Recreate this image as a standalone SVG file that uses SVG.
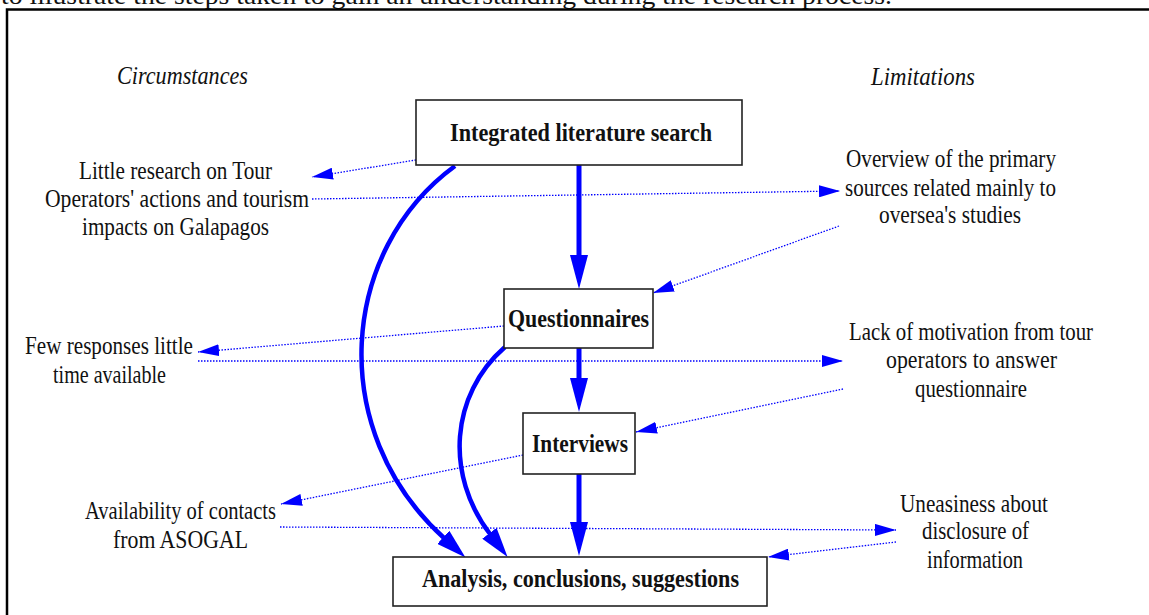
<svg xmlns="http://www.w3.org/2000/svg" width="1149" height="615" viewBox="0 0 1149 615">
  <style>
    .t { font-family: "Liberation Serif", "Times New Roman", serif; font-size: 26px; fill: #111; }
    .i { font-style: italic; font-size: 25px; }
    .b { font-weight: bold; font-size: 26px; }
    .ttl { font-size: 26px; }
    .box { fill: #fff; stroke: #222; stroke-width: 1.6; }
    .thick { fill: none; stroke: #0000ff; stroke-width: 5; }
    .curve { fill: none; stroke: #0000ff; stroke-width: 4.5; }
    .dot { fill: none; stroke: #0000ff; stroke-width: 1.3; stroke-dasharray: 1.5 1.5; }
  </style>
  <defs>
    <marker id="ah" markerUnits="userSpaceOnUse" markerWidth="34" markerHeight="18" viewBox="0 0 34 18" refX="1" refY="9" orient="auto">
      <path d="M0,0 L34,9 L0,18 z" fill="#0000ff"/>
    </marker>
    <marker id="ahc" markerUnits="userSpaceOnUse" markerWidth="30" markerHeight="18" viewBox="0 0 30 18" refX="1" refY="9" orient="auto">
      <path d="M0,0 L30,9 L0,18 z" fill="#0000ff"/>
    </marker>
    <marker id="ad" markerUnits="userSpaceOnUse" markerWidth="21" markerHeight="12" viewBox="0 0 21 12" refX="21" refY="6" orient="auto">
      <path d="M0,0 L21,6 L0,12 z" fill="#0000ff"/>
    </marker>
  </defs>
  <rect width="1149" height="615" fill="#fff"/>

  <text class="t ttl" x="1" y="4" textLength="891" lengthAdjust="spacingAndGlyphs">to illustrate the steps taken to gain an understanding during the research process.</text>
  <path d="M7,616 V9.5 H1150" fill="none" stroke="#000" stroke-width="2.5"/>

  <g id="headings">
    <text class="t i" x="117" y="84" textLength="131" lengthAdjust="spacingAndGlyphs">Circumstances</text>
    <text class="t i" x="871" y="85" textLength="104" lengthAdjust="spacingAndGlyphs">Limitations</text>
  </g>

  <g id="connectors">
    <path class="dot" d="M416,160 L312,177" marker-end="url(#ad)"/>
    <path class="dot" d="M312,199 L840,191" marker-end="url(#ad)"/>
    <path class="dot" d="M839,226 L653,293" marker-end="url(#ad)"/>
    <path class="dot" d="M504,326 L198,352" marker-end="url(#ad)"/>
    <path class="dot" d="M198,361 L843,361" marker-end="url(#ad)"/>
    <path class="dot" d="M843,389 L636,432" marker-end="url(#ad)"/>
    <path class="dot" d="M523,455 L281,504" marker-end="url(#ad)"/>
    <path class="dot" d="M280,527 L896,530" marker-end="url(#ad)"/>
    <path class="dot" d="M896,542 L768,557" marker-end="url(#ad)"/>

    <path class="thick" d="M579,165 L579,256" marker-end="url(#ah)"/>
    <path class="thick" d="M579,348 L579,379" marker-end="url(#ah)"/>
    <path class="thick" d="M579,474 L579,523" marker-end="url(#ah)"/>
    <path class="curve" d="M455,166 C340,250 325,430 444,538" marker-end="url(#ahc)"/>
    <path class="curve" d="M505,347 C450,395 445,475 490,534" marker-end="url(#ahc)"/>
  </g>

  <g id="node-literature">
    <rect class="box" x="416" y="100" width="326" height="65"/>
    <text class="t b" x="450" y="141" textLength="262" lengthAdjust="spacingAndGlyphs">Integrated literature search</text>
  </g>
  <g id="node-questionnaires">
    <rect class="box" x="504" y="289" width="149" height="59"/>
    <text class="t b" x="508" y="327" textLength="141" lengthAdjust="spacingAndGlyphs">Questionnaires</text>
  </g>
  <g id="node-interviews">
    <rect class="box" x="523" y="413" width="112" height="61"/>
    <text class="t b" x="532" y="452" textLength="96" lengthAdjust="spacingAndGlyphs">Interviews</text>
  </g>
  <g id="node-analysis">
    <rect class="box" x="393" y="557" width="374" height="49"/>
    <text class="t b" x="422" y="587" textLength="317" lengthAdjust="spacingAndGlyphs">Analysis, conclusions, suggestions</text>
  </g>

  <g id="node-little-research">
    <text class="t" x="79" y="179" textLength="193" lengthAdjust="spacingAndGlyphs">Little research on Tour</text>
    <text class="t" x="45" y="207" textLength="264" lengthAdjust="spacingAndGlyphs">Operators' actions and tourism</text>
    <text class="t" x="82" y="235" textLength="187" lengthAdjust="spacingAndGlyphs">impacts on Galapagos</text>
  </g>
  <g id="node-few-responses">
    <text class="t" x="25" y="354" textLength="168" lengthAdjust="spacingAndGlyphs">Few responses little</text>
    <text class="t" x="53" y="383" textLength="113" lengthAdjust="spacingAndGlyphs">time available</text>
  </g>
  <g id="node-availability">
    <text class="t" x="85" y="519" textLength="191" lengthAdjust="spacingAndGlyphs">Availability of contacts</text>
    <text class="t" x="113" y="548" textLength="135" lengthAdjust="spacingAndGlyphs">from ASOGAL</text>
  </g>
  <g id="node-overview">
    <text class="t" x="846" y="167" textLength="210" lengthAdjust="spacingAndGlyphs">Overview of the primary</text>
    <text class="t" x="845" y="196" textLength="211" lengthAdjust="spacingAndGlyphs">sources related mainly to</text>
    <text class="t" x="879" y="223" textLength="142" lengthAdjust="spacingAndGlyphs">oversea's studies</text>
  </g>
  <g id="node-lack-motivation">
    <text class="t" x="849" y="340" textLength="244" lengthAdjust="spacingAndGlyphs">Lack of motivation from tour</text>
    <text class="t" x="886" y="368" textLength="171" lengthAdjust="spacingAndGlyphs">operators to answer</text>
    <text class="t" x="915" y="397" textLength="112" lengthAdjust="spacingAndGlyphs">questionnaire</text>
  </g>
  <g id="node-uneasiness">
    <text class="t" x="900" y="512" textLength="148" lengthAdjust="spacingAndGlyphs">Uneasiness about</text>
    <text class="t" x="922" y="539" textLength="107" lengthAdjust="spacingAndGlyphs">disclosure of</text>
    <text class="t" x="927" y="568" textLength="96" lengthAdjust="spacingAndGlyphs">information</text>
  </g>
</svg>
